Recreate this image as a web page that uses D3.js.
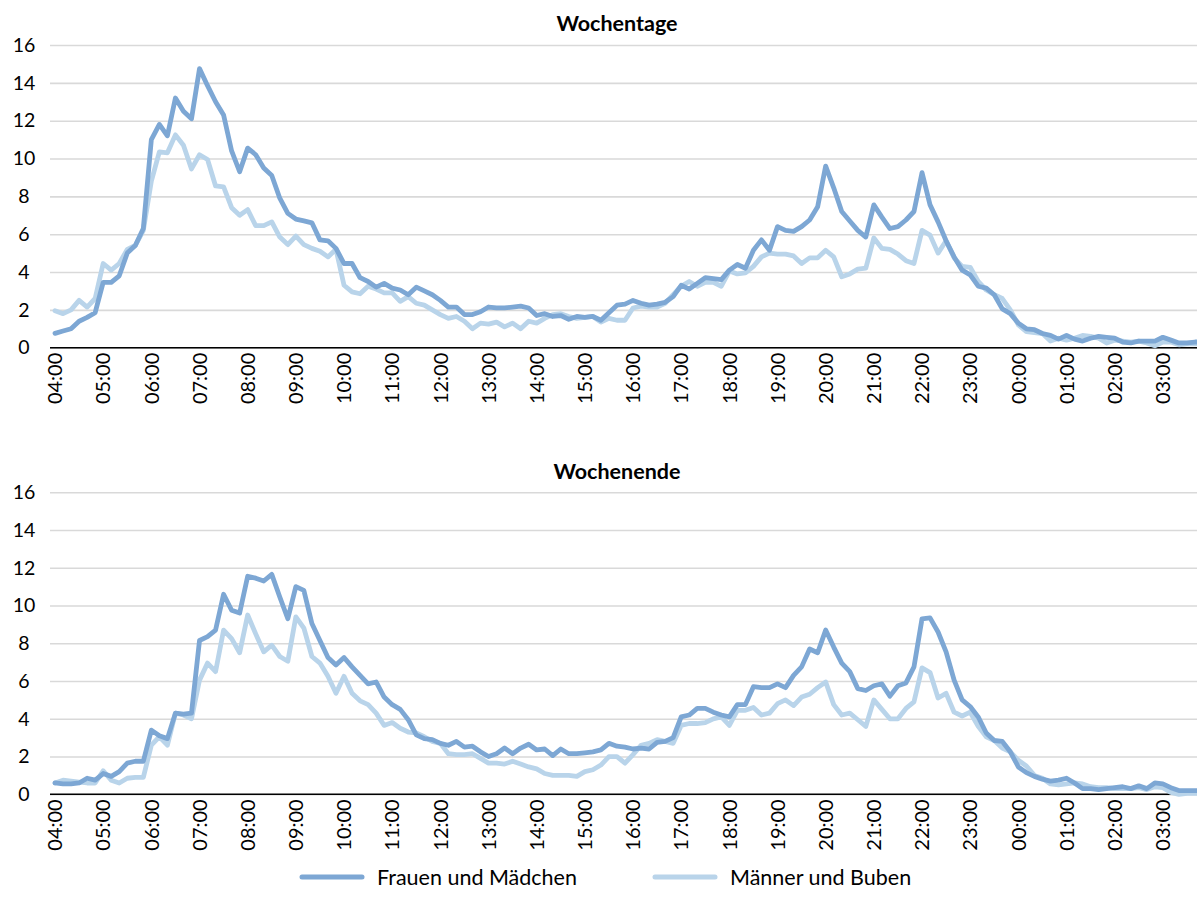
<!DOCTYPE html>
<html>
<head>
<meta charset="utf-8">
<script src="https://cdn.jsdelivr.net/npm/d3@7"></script>
<style>
  body { margin: 0; background: #fff; }
  #chart { width: 1197px; height: 914px; overflow: hidden; }
  text { font-family: Lato, "Open Sans", sans-serif; fill: #000; }
</style>
</head>
<body>
<div id="chart"></div>
<script>
// Data (10-minute slots from 04:00 to 03:50)
const hourLabels = ["04:00", "05:00", "06:00", "07:00", "08:00", "09:00", "10:00", "11:00",
  "12:00", "13:00", "14:00", "15:00", "16:00", "17:00", "18:00", "19:00", "20:00", "21:00",
  "22:00", "23:00", "00:00", "01:00", "02:00", "03:00"];
const minuteLabels = ["00", "10", "20", "30", "40", "50"];
const slots = hourLabels.flatMap(h => minuteLabels.map(m => h.slice(0, 3) + m));

const seriesNames = ["Frauen und Mädchen", "Männer und Buben"];
const panelTitles = ["Wochentage", "Wochenende"];

const weekdayFrauen = [
  0.76, 0.88, 1.0, 1.4, 1.6, 1.85, 3.45, 3.45, 3.8, 5.0, 5.4, 6.3,
  11.0, 11.8, 11.2, 13.2, 12.5, 12.1, 14.75, 13.85, 13.0, 12.3, 10.4, 9.3,
  10.55, 10.2, 9.5, 9.1, 7.9, 7.1, 6.8, 6.7, 6.6, 5.7, 5.65, 5.25,
  4.45, 4.45, 3.7, 3.5, 3.2, 3.4, 3.15, 3.05, 2.8, 3.2, 3.0, 2.8,
  2.5, 2.15, 2.15, 1.75, 1.75, 1.9, 2.15, 2.1, 2.1, 2.15, 2.2, 2.1,
  1.7, 1.8, 1.65, 1.7, 1.5, 1.65, 1.6, 1.65, 1.45, 1.85, 2.25, 2.3,
  2.5, 2.35, 2.25, 2.3, 2.4, 2.7, 3.3, 3.1, 3.4, 3.7, 3.65, 3.6,
  4.1, 4.4, 4.2, 5.15, 5.7, 5.15, 6.4, 6.2, 6.15, 6.4, 6.75, 7.45,
  9.6, 8.45, 7.2, 6.7, 6.2, 5.85, 7.55, 6.9, 6.3, 6.4, 6.75, 7.2,
  9.25, 7.55, 6.65, 5.65, 4.8, 4.1, 3.85, 3.25, 3.15, 2.8, 2.05, 1.8,
  1.3, 1.0, 0.95, 0.75, 0.65, 0.45, 0.65, 0.45, 0.35, 0.5, 0.6, 0.55,
  0.5, 0.3, 0.25, 0.35, 0.35, 0.35, 0.55, 0.4, 0.25, 0.25, 0.3, 0.3
];
const weekdayMaenner = [
  1.95, 1.8, 2.0, 2.5, 2.15, 2.6, 4.45, 4.1, 4.45, 5.2, 5.4, 6.2,
  8.8, 10.35, 10.3, 11.25, 10.7, 9.45, 10.2, 9.95, 8.55, 8.5, 7.4, 7.0,
  7.3, 6.45, 6.45, 6.65, 5.85, 5.45, 5.9, 5.45, 5.25, 5.1, 4.8, 5.2,
  3.3, 2.95, 2.85, 3.25, 3.1, 2.9, 2.9, 2.45, 2.7, 2.35, 2.25, 2.0,
  1.75, 1.55, 1.65, 1.4, 1.0, 1.3, 1.25, 1.35, 1.1, 1.3, 1.0, 1.4,
  1.3, 1.55, 1.75, 1.8, 1.65, 1.55, 1.6, 1.65, 1.35, 1.55, 1.45, 1.45,
  2.1, 2.2, 2.15, 2.15, 2.35, 2.8, 3.25, 3.5, 3.25, 3.45, 3.45, 3.25,
  4.05, 3.9, 3.95, 4.3, 4.8, 5.0, 4.95, 4.95, 4.85, 4.45, 4.75, 4.75,
  5.15, 4.8, 3.75, 3.9, 4.15, 4.2, 5.8, 5.25, 5.2, 4.95, 4.6, 4.45,
  6.2, 5.95, 5.0, 5.65, 4.75, 4.3, 4.25, 3.5, 3.05, 2.8, 2.6, 2.0,
  1.2, 0.85, 0.8, 0.75, 0.35, 0.5, 0.4, 0.5, 0.65, 0.6, 0.5, 0.25,
  0.4, 0.35, 0.3, 0.35, 0.25, 0.1, 0.3, 0.3, 0.15, 0.2, 0.2, 0.2
];
const weekendFrauen = [
  0.6, 0.55, 0.55, 0.6, 0.85, 0.75, 1.1, 0.95, 1.2, 1.65, 1.75, 1.75,
  3.4, 3.1, 2.95, 4.3, 4.25, 4.3, 8.15, 8.35, 8.7, 10.6, 9.75, 9.6,
  11.55, 11.45, 11.3, 11.65, 10.45, 9.3, 11.0, 10.8, 9.05, 8.15, 7.25, 6.85,
  7.25, 6.75, 6.3, 5.85, 5.95, 5.15, 4.75, 4.5, 3.95, 3.15, 2.95, 2.9,
  2.7, 2.6, 2.8, 2.5, 2.55, 2.25, 2.0, 2.15, 2.45, 2.15, 2.45, 2.65,
  2.35, 2.4, 2.05, 2.4, 2.15, 2.15, 2.2, 2.25, 2.35, 2.7, 2.55, 2.5,
  2.4, 2.45, 2.4, 2.75, 2.8, 3.0, 4.1, 4.2, 4.55, 4.55, 4.35, 4.2,
  4.1, 4.75, 4.75, 5.7, 5.65, 5.65, 5.85, 5.65, 6.3, 6.75, 7.7, 7.5,
  8.7, 7.8, 6.95, 6.5, 5.6, 5.5, 5.75, 5.85, 5.2, 5.75, 5.9, 6.75,
  9.3, 9.35, 8.6, 7.55, 6.05, 5.0, 4.65, 4.1, 3.25, 2.85, 2.8, 2.25,
  1.45, 1.15, 0.95, 0.8, 0.7, 0.75, 0.85, 0.6, 0.3, 0.3, 0.25, 0.3,
  0.35, 0.4, 0.3, 0.45, 0.3, 0.6, 0.55, 0.35, 0.2, 0.2, 0.2, 0.2
];
const weekendMaenner = [
  0.6, 0.75, 0.7, 0.65, 0.6, 0.6, 1.25, 0.75, 0.6, 0.85, 0.9, 0.9,
  2.6, 3.05, 2.6, 4.3, 4.2, 4.0, 6.05, 6.95, 6.5, 8.7, 8.25, 7.5,
  9.5, 8.5, 7.55, 7.9, 7.3, 7.05, 9.4, 8.8, 7.3, 6.95, 6.25, 5.35,
  6.25, 5.35, 4.95, 4.75, 4.3, 3.65, 3.8, 3.5, 3.3, 3.25, 3.05, 2.8,
  2.7, 2.15, 2.1, 2.1, 2.15, 1.9, 1.65, 1.65, 1.6, 1.75, 1.6, 1.45,
  1.35, 1.1, 1.0, 1.0, 1.0, 0.95, 1.2, 1.3, 1.55, 2.0, 2.0, 1.65,
  2.1, 2.6, 2.7, 2.9, 2.8, 2.7, 3.65, 3.75, 3.75, 3.8, 4.0, 4.1,
  3.65, 4.45, 4.45, 4.6, 4.2, 4.3, 4.8, 5.0, 4.7, 5.15, 5.3, 5.65,
  5.95, 4.75, 4.2, 4.3, 3.95, 3.6, 5.0, 4.5, 4.0, 4.0, 4.55, 4.9,
  6.7, 6.45, 5.1, 5.35, 4.35, 4.15, 4.35, 3.6, 3.05, 2.85, 2.45, 2.25,
  1.8, 1.5, 1.0, 0.85, 0.55, 0.5, 0.55, 0.6, 0.55, 0.4, 0.35, 0.35,
  0.3, 0.3, 0.3, 0.35, 0.25, 0.4, 0.35, 0.1, 0.0, 0.05, 0.05, 0.05
];
const yTicks = [0, 2, 4, 6, 8, 10, 12, 14, 16];

// Configuration
const svgWidth = 1197;
const svgHeight = 914;
const plotLeft = 51;
const plotRight = 1207; // plot runs past the right edge like the original
const panels = [
  { title: panelTitles[0], top: 45, bottom: 347.7, titleY: 31, series: [weekdayFrauen, weekdayMaenner] },
  { title: panelTitles[1], top: 492.3, bottom: 794.3, titleY: 479, series: [weekendFrauen, weekendMaenner] }
];
const colors = ["#7da7d4", "#b9d4ea"];

const svg = d3.select("#chart")
  .append("svg")
  .attr("width", svgWidth)
  .attr("height", svgHeight);

const x = d3.scaleBand()
  .domain(slots)
  .range([plotLeft, plotRight]);

const xPos = d => x(d) + x.bandwidth() / 2;

panels.forEach(p => {
  const y = d3.scaleLinear().domain([0, 16]).range([p.bottom, p.top]);
  const g = svg.append("g");

  // gridlines + y labels
  const yAxis = d3.axisLeft(y)
    .tickValues(yTicks)
    .tickSize(-(plotRight - plotLeft + 1))
    .tickPadding(0);
  g.append("g")
    .attr("transform", `translate(${plotLeft - 1}, 0)`)
    .call(yAxis)
    .call(s => s.select(".domain").remove())
    .call(s => s.selectAll(".tick line").attr("stroke", "#d9d9d9").attr("stroke-width", 1.6))
    .call(s => s.selectAll(".tick text")
      .attr("x", -26)
      .attr("text-anchor", "middle")
      .style("font-size", "19.5px")
      .style("font-family", "Lato, sans-serif")
      .attr("fill", "#000"));

  // x axis
  const xAxis = d3.axisBottom(x)
    .tickValues(slots.filter(s => hourLabels.includes(s)))
    .tickSize(0);
  g.append("g")
    .attr("transform", `translate(0, ${p.bottom})`)
    .call(xAxis)
    .call(s => s.select(".domain").attr("stroke", "#000").attr("stroke-width", 1.6)
      .attr("d", `M${plotLeft - 1},0H${plotRight}`))
    .call(s => s.selectAll(".tick text")
      .attr("transform", "rotate(-90)")
      .attr("text-anchor", "end")
      .attr("x", -5)
      .attr("y", 0)
      .attr("dy", "0.36em")
      .style("font-size", "20px")
      .style("font-family", "Lato, sans-serif")
      .attr("fill", "#000"));

  // lines: Männer first, Frauen on top
  const line = d3.line()
    .x((d, i) => xPos(slots[i]))
    .y(d => y(d));

  [1, 0].forEach(k => {
    g.append("path")
      .datum(p.series[k])
      .attr("fill", "none")
      .attr("stroke", colors[k])
      .attr("stroke-width", 4.8)
      .attr("stroke-linejoin", "round")
      .attr("stroke-linecap", "round")
      .attr("d", line);
  });

  g.append("text")
    .attr("x", 617)
    .attr("y", p.titleY)
    .attr("text-anchor", "middle")
    .style("font-size", "21.5px")
    .style("font-weight", "bold")
    .text(p.title);
});

// Legend
const legend = svg.append("g").attr("class", "legend");
const legendItems = [
  { name: seriesNames[0], color: colors[0], x: 302 },
  { name: seriesNames[1], color: colors[1], x: 655 }
];
legendItems.forEach(d => {
  legend.append("line")
    .attr("x1", d.x).attr("x2", d.x + 60)
    .attr("y1", 877).attr("y2", 877)
    .attr("stroke", d.color)
    .attr("stroke-width", 5)
    .attr("stroke-linecap", "round");
  legend.append("text")
    .attr("x", d.x + 75)
    .attr("y", 884.5)
    .style("font-size", "21.5px")
    .text(d.name);
});
</script>
</body>
</html>
